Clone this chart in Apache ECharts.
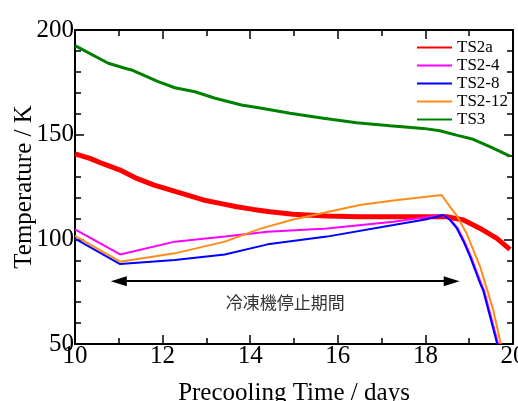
<!DOCTYPE html>
<html><head><meta charset="utf-8">
<script src="https://cdn.jsdelivr.net/npm/echarts@6/dist/echarts.min.js"></script>
<style>html,body{margin:0;padding:0;background:#fff}#c{width:518px;height:401px}</style>
</head><body><div id="c"></div><script>
// Data (x: precooling time in days, y: temperature in K)
const seriesNames = ['TS2a', 'TS2-4', 'TS2-8', 'TS2-12', 'TS3'];
const seriesColors = ['#ff0000', '#ff00ff', '#0000ff', '#ff8c1a', '#008000'];
const ts2a = [[10.0,140.8],[10.34,138.7],[10.65,136],[11.03,133.1],[11.41,129.1],[11.79,126],[12.17,123.6],[12.55,121.2],[12.93,118.8],[13.31,117.2],[13.69,115.6],[14.07,114.3],[14.45,113.2],[14.98,112],[15.75,111.1],[16.5,110.8],[17.27,110.8],[18.03,110.8],[18.49,110.8],[18.87,109.2],[19.25,105.2],[19.63,100.5],[19.93,95.2]];
const ts2_4 = [[10.0,104.8],[11.03,92.8],[12.28,98.9],[13.42,101.3],[14.4,103.6],[15.75,105.2],[17.27,108.4],[18.0,110.5],[18.37,111.6],[18.57,109.5],[18.73,105.5],[18.89,99],[19.04,91.7],[19.27,79],[19.34,75.5],[19.66,50]];
const ts2_8 = [[10.0,100.3],[11.03,88.2],[12.28,90.1],[13.42,92.8],[14.4,97.6],[15.75,101.3],[17.27,106.8],[18.0,109.5],[18.41,111.6],[18.55,109.5],[18.71,105.5],[18.87,99],[19.02,91.7],[19.25,79],[19.32,75.5],[19.64,50]];
const ts2_12 = [[10.0,101.6],[11.03,89.3],[12.28,93.3],[13.42,98.9],[14.22,105],[14.98,109.5],[16.5,116.4],[17.27,118.5],[18.37,121.2],[18.56,115.6],[18.71,111.6],[18.94,102.9],[19.25,86.9],[19.55,66.2],[19.72,50]];
const ts3 = [[10.0,192.5],[10.76,184.1],[11.14,181.7],[11.29,180.9],[11.9,175.3],[12.28,172.4],[12.74,170.5],[13.2,167.4],[13.8,164.2],[14.26,162.6],[14.91,160.2],[15.67,157.8],[16.43,155.7],[17.19,154.3],[17.95,153.0],[18.33,151.9],[18.71,149.8],[19.09,147.8],[19.47,144.3],[19.93,139.8]];
const seriesData = [ts2a, ts2_4, ts2_8, ts2_12, ts3];
const seriesWidths = [5, 2, 2, 2, 3];
// Refrigerator stop period annotation
const stopPeriod = [11.0, 18.6];
const stopArrowTemp = 80;
const stopLabel = '冷凍機停止期間';
const xRange = [10, 20], yRange = [50, 200];

const serif = 'Liberation Serif, Times New Roman, serif';
const chart = echarts.init(document.getElementById('c'), null, {renderer: 'canvas'});
const axisCommon = {
  type: 'value',
  axisLine: {show: true, onZero: false, lineStyle: {color: '#000', width: 2}},
  axisTick: {show: true, inside: true, length: 9, lineStyle: {color: '#000', width: 1.5}},
  minorTick: {show: true, length: 6, lineStyle: {color: '#000', width: 1.5}},
  splitLine: {show: false},
  minorSplitLine: {show: false}
};
const labelStyle = {color: '#000', fontSize: 25, fontFamily: serif};
const series = seriesNames.map((n, i) => ({
  name: n, type: 'line', data: seriesData[i], symbol: 'none', smooth: false,
  lineStyle: {color: seriesColors[i], width: seriesWidths[i]},
  itemStyle: {color: seriesColors[i]},
  z: i === 0 ? 3 : 4
}));
series.push({
  name: 'annotation', type: 'line', data: [], symbol: 'none',
  markLine: {
    silent: true, symbol: ['triangle', 'triangle'], symbolSize: [10, 16],
    lineStyle: {color: '#000', width: 2, type: 'solid'},
    label: {show: true, position: 'insideMiddleBottom', formatter: stopLabel, distance: 13,
      fontSize: 17, color: '#333', fontFamily: 'Noto Sans CJK JP'},
    data: [[{coord: [stopPeriod[0], stopArrowTemp]}, {coord: [stopPeriod[1], stopArrowTemp]}]]
  }
});
chart.setOption({
  animation: false,
  backgroundColor: '#fff',
  grid: {left: 75, right: 5, top: 30, bottom: 57, outerBoundsMode: 'none', containLabel: false},
  legend: {
    data: seriesNames, orient: 'vertical', left: 412, top: 34, itemGap: 1,
    itemWidth: 35, itemHeight: 2, icon: 'rect',
    textStyle: {fontFamily: serif, fontSize: 17, lineHeight: 17, color: '#000', padding: [0, 0, 0, 0]}
  },
  xAxis: [
    Object.assign({}, axisCommon, {
      position: 'bottom', min: xRange[0], max: xRange[1], interval: 2,
      minorTick: Object.assign({}, axisCommon.minorTick, {splitNumber: 2}),
      axisLabel: Object.assign({}, labelStyle, {margin: 0, showMinLabel: true, showMaxLabel: true}),
      name: 'Precooling Time / days', nameLocation: 'middle', nameGap: 37,
      nameTextStyle: labelStyle
    }),
    Object.assign({}, axisCommon, {
      position: 'top', min: xRange[0], max: xRange[1], interval: 2,
      minorTick: Object.assign({}, axisCommon.minorTick, {splitNumber: 2}),
      axisLabel: {show: false}
    })
  ],
  yAxis: [
    Object.assign({}, axisCommon, {
      position: 'left', min: yRange[0], max: yRange[1], interval: 50,
      minorTick: Object.assign({}, axisCommon.minorTick, {splitNumber: 5}),
      axisLabel: Object.assign({}, labelStyle, {margin: 1, showMinLabel: true, showMaxLabel: true}),
      name: 'Temperature / K', nameLocation: 'middle', nameGap: 38, nameMoveOverlap: false,
      nameTextStyle: labelStyle
    }),
    Object.assign({}, axisCommon, {
      position: 'right', min: yRange[0], max: yRange[1], interval: 50,
      minorTick: Object.assign({}, axisCommon.minorTick, {splitNumber: 5}),
      axisLabel: {show: false}
    })
  ],
  series: series
});
</script></body></html>
